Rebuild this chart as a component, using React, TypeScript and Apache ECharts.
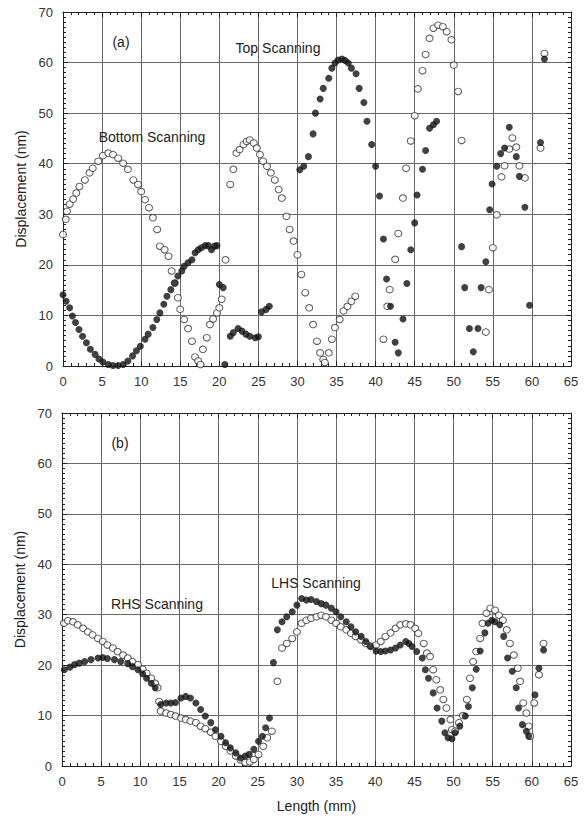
import React, { useEffect, useRef } from "react";
import * as echarts from "echarts";

// ---------- Panel (a) ----------
// filled circles (Top Scanning)
const aFilledX = [
  0, 0.4, 0.85, 1.2, 1.6, 2.05, 2.5, 3.0, 3.5, 4.1, 4.6, 5.1, 5.8, 6.4, 7.05, 7.7, 8.3, 8.9, 9.4, 9.9,
  10.5, 10.9, 11.5, 12.0, 12.4, 12.9, 13.3, 13.8, 14.3, 14.7, 15.2, 15.5, 16.0, 16.5, 16.9, 17.3, 17.7, 18.2, 18.6, 19.0,
  19.4, 19.7,
  20.0, 20.5, 20.7, 21.4, 21.8, 22.4, 22.9, 23.4, 23.9, 24.6, 25.0, 25.4, 26.0, 26.4,
  30.3, 30.8, 31.4, 32.0, 32.3, 32.9, 33.3, 34.0, 34.4, 34.8, 35.2, 35.7, 36.1, 36.5, 36.9, 37.5, 37.9, 38.5, 38.9, 39.5,
  40.0, 40.5,
  41.0, 41.4, 41.9, 42.5, 42.9, 43.5, 44.0, 44.5, 45.0, 45.3, 46.0, 46.4, 46.9, 47.4, 47.8,
  51.0, 51.4, 52.0, 52.5, 53.1, 53.5, 54.1, 54.6, 54.9, 55.5, 56.0, 56.5, 57.1, 58.0, 58.4, 59.1, 59.7, 61.1, 61.6,
];
const aFilledY = [
  14.1, 12.8, 11.5, 9.9, 8.6, 7.2, 5.9, 4.6, 3.3, 2.3, 1.4, 0.8, 0.3, 0.1, 0.1, 0.3, 1.0, 2.0, 3.0, 3.9,
  5.3, 6.3, 7.6, 9.2, 10.5, 12.2, 13.8, 15.1, 16.4, 17.8, 18.8, 19.7, 20.4, 21.0, 22.4, 23.0, 23.4, 23.8, 23.8, 23.0,
  23.7, 23.8,
  16.1, 15.5, 0.3, 5.9, 6.6, 7.4, 6.9, 6.3, 5.9, 5.6, 5.8, 10.7, 11.2, 11.8,
  38.8, 39.5, 41.4, 45.9, 50.0, 52.8, 54.9, 56.9, 58.9, 59.9, 60.5, 60.7, 60.4, 59.9, 58.9, 57.8, 54.9, 52.1, 48.4, 43.8,
  39.5, 33.6,
  25.1, 17.2, 11.8, 4.7, 2.6, 9.3, 16.3, 23.0, 28.3, 33.8, 38.9, 42.6, 47.0, 47.7, 48.4,
  23.6, 15.5, 7.4, 2.8, 7.4, 15.5, 20.6, 30.9, 36.0, 39.5, 42.0, 43.1, 47.2, 41.4, 37.5, 31.4, 12.0, 44.2, 60.7,
];
// open circles (Bottom Scanning)
const aOpenX = [
  0, 0.35, 0.5, 0.85, 1.3, 1.7, 2.1, 2.8, 3.4, 3.8, 4.5, 5.1, 5.8, 6.4, 7.05, 7.7, 8.3, 9.0, 9.6, 10.0,
  10.5, 11.0, 11.5, 12.05, 12.4, 13.0, 13.5, 13.9, 14.3, 14.7, 15.0, 15.5, 16.0, 16.5, 16.9, 17.3,
  17.6, 17.9, 18.4, 18.8, 19.2, 19.7, 20.0, 20.3, 20.8,
  21.4, 21.8, 22.2, 22.6, 23.1, 23.5, 23.9, 24.4, 24.8, 25.2, 25.6, 26.1, 26.6, 27.1, 27.6, 28.0, 28.6, 29.0, 29.5, 30.0,
  30.5, 31.0, 31.5, 32.0, 32.5, 32.9, 33.3, 33.5,
  34.0, 34.4, 34.8, 35.4, 35.9, 36.4, 36.9, 37.4,
  41.0, 41.5, 41.8, 42.5, 42.9, 43.5, 43.9, 44.5, 45.0, 45.4, 46.0, 46.4, 46.9, 47.4, 48.0, 48.6, 49.1, 49.7, 50.0, 50.55,
  51.0,
  54.1, 54.5, 55.0, 55.5, 56.1, 56.5, 57.1, 57.5, 58.0, 58.4, 59.1, 61.1, 61.6,
];
const aOpenY = [
  26, 29, 30.6, 32, 33, 34.2, 35.5, 36.8, 38.2, 39.1, 40.5, 41.6, 42.1, 41.8, 41.1, 40.1, 38.9, 36.8, 35.9, 34.5,
  32.9, 31.3, 29.3, 27, 23.7, 23, 21.7, 18.8, 16.4, 13.5, 11.2, 9.2, 7.4, 4.9, 1.8, 1.0,
  0.3, 3.3, 5.6, 8.2, 9.3, 10.5, 11.5, 13.2, 21.0,
  35.9, 38.9, 42.1, 42.8, 43.8, 44.4, 44.7, 44.1, 43.1, 41.8, 40.5, 39.5, 38.2, 36.8, 34.9, 33.2, 29.6, 27.0, 24.7, 22.0,
  18.1, 14.5, 11.5, 8.2, 4.9, 2.6, 1.3, 0.7,
  2.6, 5.3, 7.6, 9.2, 10.9, 11.8, 12.8, 13.8,
  5.3, 11.8, 15.1, 21.1, 26.2, 33.2, 39.1, 44.5, 49.5, 54.8, 58.4, 61.6, 64.8, 66.8, 67.4, 67.1, 66.1, 64.5, 59.5, 54.3,
  44.6,
  6.7, 15.1, 23.4, 29.9, 37.4, 39.6, 42.9, 45.1, 43.3, 39.6, 37.2, 43.1, 61.8,
];

// ---------- Panel (b) ----------
const bFilledX = [
  0.3, 1.0, 1.6, 2.2, 2.9, 3.7, 4.6, 5.2, 5.8, 6.7, 7.5, 8.4, 9.0, 9.7, 10.3, 10.8, 11.4, 11.9,
  12.6, 13.3, 13.9, 14.5, 15.2, 15.8, 16.4, 17.1, 17.7, 18.3, 19.0, 19.6, 20.3, 20.9, 21.5, 22.2, 22.8, 23.4, 23.9, 24.5,
  25.1, 25.6, 26.0, 26.5,
  27.0, 27.5, 28.1, 28.7, 29.4, 30.0,
  30.6, 31.2, 31.8, 32.5, 33.1, 33.7, 34.4, 35.0, 35.6, 36.3, 36.9, 37.5, 38.2, 38.8, 39.4, 40.1, 40.7, 41.3, 41.96, 42.6,
  43.2, 43.9, 44.3, 44.7, 45.3, 46.0, 46.4, 46.8, 47.4, 47.9, 48.5, 48.9, 49.3, 49.8, 50.2, 50.8, 51.5, 51.9, 52.4, 52.9,
  53.4, 54.0, 54.4, 54.9, 55.3, 55.9, 56.4, 56.9, 57.5, 58.0, 58.3, 58.8, 59.3, 59.6, 60.4, 60.9, 61.5,
];
const bFilledY = [
  19.1, 19.6, 20.1, 20.4, 20.7, 21.1, 21.4, 21.5, 21.3, 21.1, 20.7, 20.3, 19.7, 19.1, 18.3, 17.4, 16.4, 15.5,
  12.2, 12.5, 12.5, 12.6, 13.5, 13.8, 13.5, 12.5, 11.2, 9.9, 8.6, 7.2, 5.9, 4.6, 3.6, 2.6, 1.6, 2.0, 2.3, 3.3,
  4.9, 5.9, 7.6, 9.5,
  20.5, 27.0, 28.6, 29.6, 30.6, 31.9,
  33.2, 32.9, 33.0, 32.6, 32.2, 31.9, 31.3, 30.6, 29.6, 28.6, 27.6, 26.6, 25.7, 24.7, 23.7, 22.8, 22.7, 22.8, 23.0, 23.4,
  24.0, 24.7, 24.3, 23.7, 22.7, 21.4, 19.1, 17.4, 14.5, 11.5, 8.9, 6.6, 5.6, 5.4, 6.6, 7.9, 9.9, 11.8, 15.5, 19.2,
  22.8, 26.4, 28.3, 28.9, 28.6, 28.0, 25.7, 21.4, 18.8, 15.5, 11.5, 8.2, 6.9, 5.9, 14.1, 19.4, 23.0,
];
const bOpenX = [
  0.25, 0.76, 1.4, 2.0, 2.7, 3.3, 3.9, 4.6, 5.2, 5.8, 6.5, 7.1, 7.8, 8.4, 9.0, 9.7, 10.3, 10.8, 11.4, 11.9, 12.2,
  12.4, 12.6, 13.3, 13.9, 14.5, 15.2, 15.8, 16.4, 17.1, 17.7, 18.3, 19.0, 19.6, 20.3, 20.9, 21.5, 22.2, 22.8, 23.4, 24.0,
  24.5, 25.1, 25.7, 26.2, 26.8,
  27.5, 28.1, 28.7, 29.4, 30.0,
  30.6, 31.2, 31.8, 32.5, 33.1, 33.7, 34.4, 35.0, 35.6, 36.3, 36.9, 37.5, 38.2, 38.8, 39.4, 40.1, 40.7, 41.3, 41.96, 42.6,
  43.2, 43.9, 44.5, 45.1, 45.5, 46.2, 46.6, 47.0, 47.4, 47.8, 48.3, 48.7, 49.1, 49.6, 49.8, 50.2, 50.7, 51.2, 51.7, 52.1,
  52.5, 52.9, 53.4, 53.7, 54.2, 54.7, 55.3, 55.8, 56.3, 56.8, 57.2, 57.7, 58.2, 58.5, 58.9, 59.3, 59.6, 59.8, 60.3, 60.9,
  61.5,
];
const bOpenY = [
  28.3, 28.8, 28.6, 28.0, 27.3, 26.6, 26.0, 25.3, 24.7, 24.0, 23.4, 22.7, 22.0, 21.4, 20.7, 20.1, 19.2, 18.4, 17.4, 16.4, 15.5,
  12.8, 10.9, 10.5, 10.2, 9.9, 9.5, 9.2, 8.9, 8.6, 7.9, 7.4, 6.7, 5.9, 4.9, 3.9, 3.0, 2.0, 1.2, 0.7, 0.8,
  1.3, 2.3, 3.9, 5.6, 6.9,
  16.8, 23.4, 24.3, 25.3, 26.6,
  28.3, 28.9, 29.3, 29.6, 29.9, 29.6, 28.9, 28.3, 27.6, 27.0, 26.3, 25.7, 25.0, 24.3, 23.8, 24.0, 24.7, 25.7, 26.4, 27.3,
  28.0, 28.2, 28.0, 27.3, 26.3, 24.3, 22.4, 21.7, 19.1, 17.1, 15.1, 13.2, 11.5, 9.2, 7.2, 6.9, 8.6, 10.0, 13.2, 17.4,
  20.7, 22.7, 25.3, 28.3, 30.3, 31.3, 30.9, 29.9, 28.9, 27.0, 24.3, 22.0, 19.4, 16.8, 12.5, 10.5, 7.9, 5.9, 12.5, 18.1,
  24.3,
];

// ---------- axes ----------
const xMin = 0, xMax = 65, xStep = 5;
const yMin = 0, yMax = 70, yStep = 10;
const xAxisName = "Length (mm)";
const yAxisName = "Displacement (nm)";

const zip = (xs: number[], ys: number[]) => xs.map((x, i) => [x, ys[i]]);

const FONT = "'Liberation Sans', Arial, Helvetica, sans-serif";
const AXIS_COLOR = "#222";
const GRID_COLOR = "#6a6a6a";

export default function App() {
  const ref = useRef<HTMLDivElement>(null);

  useEffect(() => {
    if (!ref.current) return;
    const chart = echarts.init(ref.current, undefined, { renderer: "svg" });

    const xAx = (gridIndex: number, pos: "bottom" | "top", withName: boolean) => ({
      type: "value",
      gridIndex,
      position: pos,
      min: xMin,
      max: xMax,
      interval: xStep,
      name: withName ? xAxisName : "",
      nameLocation: "middle",
      nameGap: 33,
      nameTextStyle: { fontFamily: FONT, fontSize: 14, color: "#222" },
      axisLine: { show: true, onZero: false, lineStyle: { color: AXIS_COLOR, width: 1 } },
      axisTick: { show: true, inside: true, length: 5, lineStyle: { color: AXIS_COLOR } },
      minorTick: { show: true, splitNumber: 5, length: 3, lineStyle: { color: AXIS_COLOR } },
      splitLine: { show: pos === "bottom", lineStyle: { color: GRID_COLOR, width: 1 } },
      axisLabel: { show: pos === "bottom", fontFamily: FONT, fontSize: 13, color: "#333", margin: 9 },
    });
    const yAx = (gridIndex: number, pos: "left" | "right") => ({
      type: "value",
      gridIndex,
      position: pos,
      min: yMin,
      max: yMax,
      interval: yStep,
      name: pos === "left" ? yAxisName : "",
      nameLocation: "middle",
      nameGap: 34,
      nameTextStyle: { fontFamily: FONT, fontSize: 14, color: "#222" },
      axisLine: { show: true, onZero: false, lineStyle: { color: AXIS_COLOR, width: 1 } },
      axisTick: { show: true, inside: true, length: 5, lineStyle: { color: AXIS_COLOR } },
      minorTick: { show: true, splitNumber: 10, length: 3, lineStyle: { color: AXIS_COLOR } },
      splitLine: { show: pos === "left", lineStyle: { color: GRID_COLOR, width: 1 } },
      axisLabel: { show: pos === "left", fontFamily: FONT, fontSize: 13, color: "#333", margin: 10 },
    });

    const filled = (xi: number, yi: number, xs: number[], ys: number[]) => ({
      type: "scatter",
      xAxisIndex: xi,
      yAxisIndex: yi,
      symbol: "circle",
      symbolSize: 7,
      itemStyle: { color: "#111" },
      data: zip(xs, ys),
      z: 3,
    });
    const open = (xi: number, yi: number, xs: number[], ys: number[]) => ({
      type: "scatter",
      xAxisIndex: xi,
      yAxisIndex: yi,
      symbol: "circle",
      symbolSize: [7, 6.5],
      itemStyle: { color: "#fff", borderColor: "#333", borderWidth: 1 },
      data: zip(xs, ys),
      z: 2,
    });

    const txt = (text: string, x: number, y: number, size = 14) => ({
      type: "text",
      x,
      y,
      style: {
        text,
        fill: "#222",
        font: `${size}px ${FONT}`,
        textAlign: "center",
        textVerticalAlign: "middle",
      },
      z: 10,
    });

    chart.setOption({
      animation: false,
      backgroundColor: "#fff",
      grid: [
        { left: 63, top: 12, width: 508, height: 354 },
        { left: 62, top: 413, width: 509, height: 353 },
      ],
      xAxis: [xAx(0, "bottom", false), xAx(0, "top", false), xAx(1, "bottom", true), xAx(1, "top", false)],
      yAxis: [yAx(0, "left"), yAx(0, "right"), yAx(1, "left"), yAx(1, "right")],
      series: [
        open(0, 0, aOpenX, aOpenY),
        filled(0, 0, aFilledX, aFilledY),
        open(2, 2, bOpenX, bOpenY),
        filled(2, 2, bFilledX, bFilledY),
      ],
      graphic: [
        txt("(a)", 121, 42),
        txt("Top Scanning", 278, 48),
        txt("Bottom Scanning", 152, 137),
        txt("(b)", 120, 443),
        txt("RHS Scanning", 157, 604),
        txt("LHS Scanning", 316, 583),
      ],
    });

    return () => chart.dispose();
  }, []);

  return (
    <div
      ref={ref}
      style={{ position: "fixed", left: 0, top: 0, width: 584, height: 818, background: "#fff" }}
    />
  );
}
